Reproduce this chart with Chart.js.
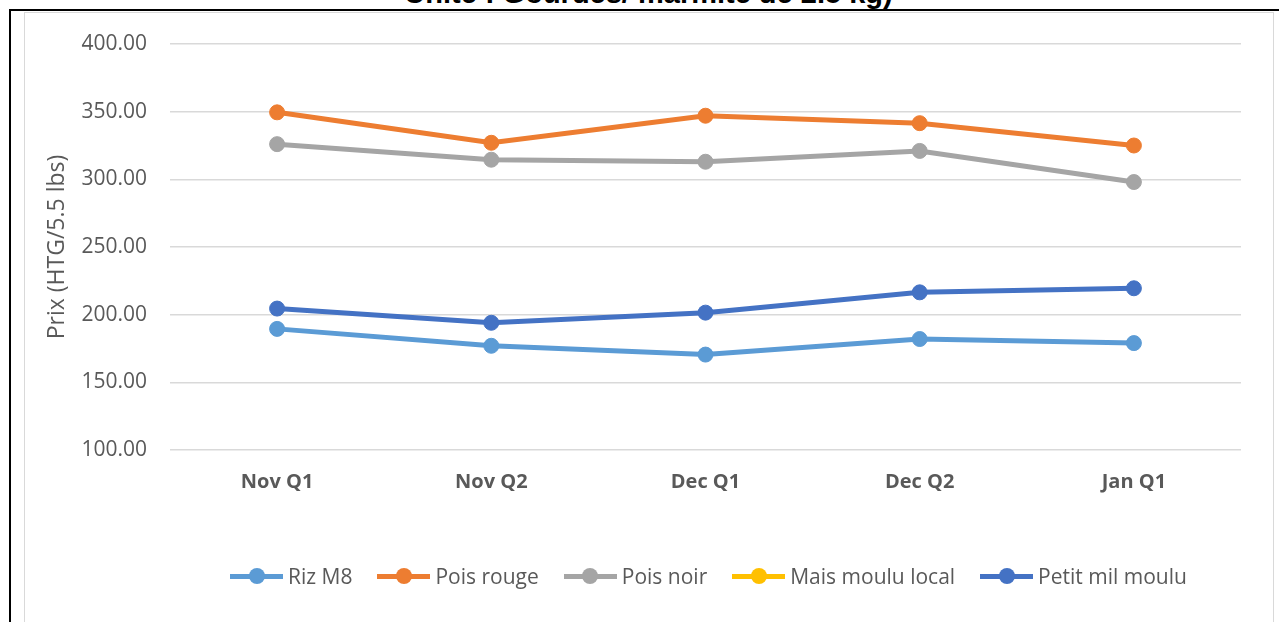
<!DOCTYPE html>
<html>
<head>
<meta charset="utf-8">
<script src="https://cdn.jsdelivr.net/npm/chart.js@4/dist/chart.umd.min.js"></script>
<style>
  html, body { margin: 0; padding: 0; background: #fff; }
  #wrap { position: relative; width: 1279px; height: 622px; overflow: hidden; background: #fff; }
  #title { position: absolute; left: 24px; width: 1249px; top: -23px; text-align: center;
           font: bold 29px "Liberation Sans", Arial, sans-serif; color: #000; white-space: nowrap; }
  #frame { position: absolute; left: 9px; top: 9px; width: 1300px; height: 700px;
           border-top: 2px solid #000; border-left: 2px solid #000; }
  #box { position: absolute; left: 24px; top: 12px; width: 1248px; height: 700px;
         border: 1px solid #d9d9d9; }
  #c { position: absolute; left: 0; top: 0; }
  #legend { position: absolute; left: 230px; top: 562px; display: flex; align-items: center;
            font: 21px "Open Sans", sans-serif; color: #595959; white-space: nowrap; }
  .item { display: flex; align-items: center; margin-right: 25px; }
  .mk { position: relative; width: 53px; height: 16px; margin-right: 5px; }
  .mk .ln { position: absolute; left: 0; right: 0; top: 5.5px; height: 5px; }
  .mk .dt { position: absolute; left: 18.5px; top: 0; width: 16px; height: 16px; border-radius: 50%; }
</style>
</head>
<body>
<div id="wrap">
  <div id="title">Unité : Gourdes/ marmite de 2.5 kg)</div>
  <div id="frame"></div>
  <div id="box"></div>
  <canvas id="c" width="1279" height="622"></canvas>
  <div id="legend"></div>
</div>
<script>
const categories = ['Nov Q1', 'Nov Q2', 'Dec Q1', 'Dec Q2', 'Jan Q1'];
const rizM8 = [189.5, 177, 170.5, 182, 179];
const poisRouge = [349.5, 327, 347, 341.5, 325];
const poisNoir = [326, 314.5, 313, 321, 298];
const maisMouluLocal = [null, null, null, null, null];
const petitMilMoulu = [204.5, 194, 201.5, 216.5, 219.5];
const seriesNames = ['Riz M8', 'Pois rouge', 'Pois noir', 'Mais moulu local', 'Petit mil moulu'];
const seriesColors = ['#5B9BD5', '#ED7D31', '#A5A5A5', '#FFC000', '#4472C4'];
const seriesValues = [rizM8, poisRouge, poisNoir, maisMouluLocal, petitMilMoulu];
const yTicks = { min: 100, max: 400, step: 50 };
const yTitle = 'Prix (HTG/5.5 lbs)';

const datasets = seriesNames.map((name, i) => ({
  label: name,
  data: seriesValues[i],
  borderColor: seriesColors[i],
  backgroundColor: seriesColors[i],
  pointBackgroundColor: seriesColors[i],
  pointBorderColor: seriesColors[i],
  borderWidth: 5,
  pointRadius: 7.5,
  pointBorderWidth: 1,
  tension: 0,
  spanGaps: false
}));

new Chart(document.getElementById('c'), {
  type: 'line',
  data: { labels: categories, datasets },
  options: {
    responsive: false,
    animation: false,
    devicePixelRatio: 1,
    layout: { padding: { left: 0, right: 38, top: 44, bottom: 112 } },
    plugins: { legend: { display: false }, tooltip: { enabled: false } },
    scales: {
      x: {
        offset: true,
        grid: { display: false, drawTicks: false },
        border: { display: false },
        ticks: { color: '#595959', font: { family: 'Open Sans', size: 20, weight: 'bold' }, padding: 20 },
        afterFit: s => { s.height = 60; }
      },
      y: {
        min: yTicks.min, max: yTicks.max,
        grid: { color: '#d9d9d9', lineWidth: 1.5, drawTicks: false },
        border: { display: false },
        ticks: {
          stepSize: yTicks.step, color: '#595959', padding: 23,
          font: { family: 'Open Sans', size: 21 },
          callback: v => Number(v).toFixed(2)
        },
        title: { display: true, text: yTitle, color: '#595959',
                 font: { family: 'Open Sans', size: 23 }, padding: { top: 44, bottom: 0 } },
        afterFit: s => { s.width = 170; }
      }
    }
  }
});

const leg = document.getElementById('legend');
seriesNames.forEach((name, i) => {
  const it = document.createElement('div');
  it.className = 'item';
  it.innerHTML = '<span class="mk"><span class="ln" style="background:' + seriesColors[i] +
    '"></span><span class="dt" style="background:' + seriesColors[i] + '"></span></span><span>' + name + '</span>';
  leg.appendChild(it);
});
</script>
</body>
</html>
